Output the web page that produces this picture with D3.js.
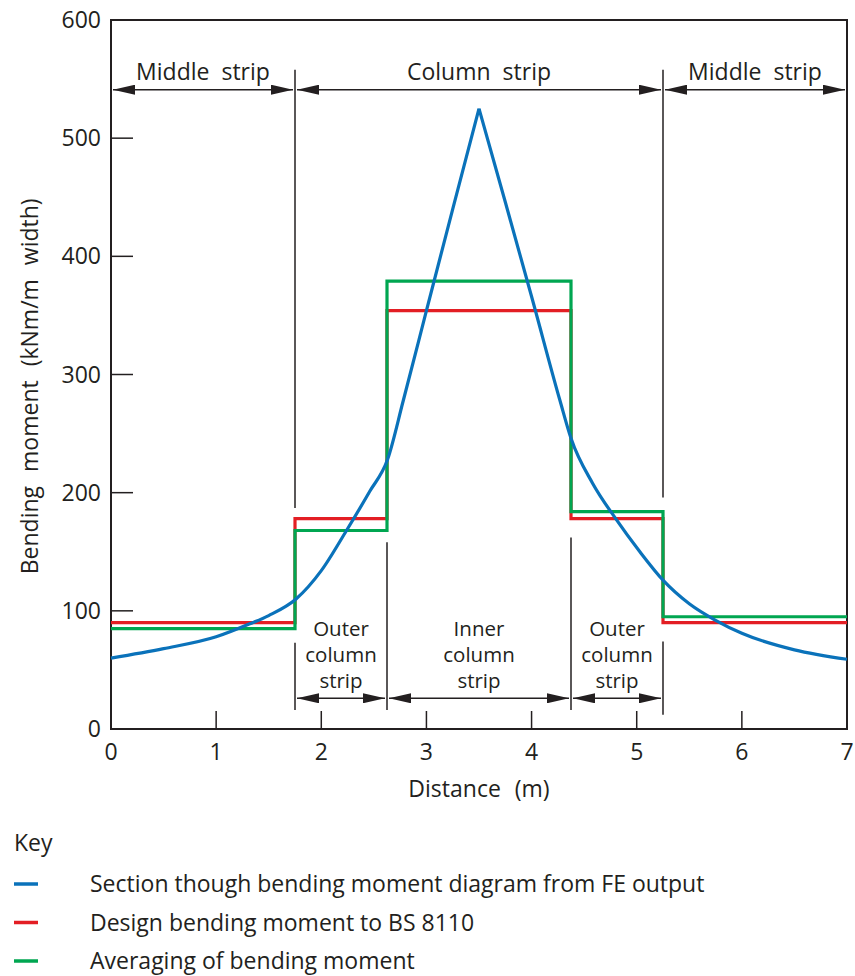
<!DOCTYPE html>
<html>
<head>
<meta charset="utf-8">
<script src="https://cdn.jsdelivr.net/npm/d3@7"></script>
<style>
  body { margin: 0; background: #fff; }
  svg text { font-family: "Open Sans", sans-serif; fill: #231f20; }
</style>
</head>
<body>
<svg id="chart"></svg>
<script>
'use strict'

// FE output section (blue), split at the peak
const feLeft = [
  [0, 60], [0.5, 68], [1, 78], [1.32, 89], [1.5, 96], [1.76, 110], [2, 134],
  [2.24, 168], [2.46, 201], [2.63, 228], [2.78, 278], [3, 354], [3.25, 440], [3.5, 525]
]
const feRight = [
  [3.5, 525], [3.75, 446], [4, 366], [4.27, 278], [4.375, 246], [4.58, 208],
  [4.8, 178], [5.03, 150], [5.25, 126], [5.5, 106], [5.75, 92], [6, 81],
  [6.5, 67], [7, 59]
]

// strip edges (m)
const stripEdges = [0, 1.75, 2.625, 4.375, 5.25, 7]

// design moment to BS 8110 (red) and averaged moment (green), per strip
const designBM = [90, 178, 354, 178, 90]
const averageBM = [85, 168, 379, 184, 95]

const xTicks = [0, 1, 2, 3, 4, 5, 6, 7]
const yTicks = [0, 100, 200, 300, 400, 500, 600]

const topStrips = [
  {from: 0, to: 1.75, label: 'Middle strip'},
  {from: 1.75, to: 5.25, label: 'Column strip'},
  {from: 5.25, to: 7, label: 'Middle strip'}
]
const bottomStrips = [
  {from: 1.75, to: 2.625, label: ['Outer', 'column', 'strip']},
  {from: 2.625, to: 4.375, label: ['Inner', 'column', 'strip']},
  {from: 4.375, to: 5.25, label: ['Outer', 'column', 'strip']}
]

const legendItems = [
  {color: '#0a72ba', text: 'Section though bending moment diagram from FE output'},
  {color: '#e31e24', text: 'Design bending moment to BS 8110'},
  {color: '#00a651', text: 'Averaging of bending moment'}
]

const W = 855, H = 976
const margin = {top: 20, right: 8, bottom: 247, left: 111}
const ink = '#231f20'

const svg = d3.select('#chart').attr('width', W).attr('height', H)

const x = d3.scaleLinear().domain([0, 7]).range([margin.left, W - margin.right])
const y = d3.scaleLinear().domain([0, 600]).range([H - margin.bottom, margin.top])

// frame
svg.append('rect')
  .attr('x', x(0)).attr('y', y(600))
  .attr('width', x(7) - x(0)).attr('height', y(0) - y(600))
  .attr('fill', 'none').attr('stroke', ink).attr('stroke-width', 2)

// inward ticks
svg.append('g').selectAll('line').data(yTicks.slice(1, -1)).enter().append('line')
  .attr('x1', x(0)).attr('x2', x(0) + 22)
  .attr('y1', d => y(d)).attr('y2', d => y(d))
  .attr('stroke', ink).attr('stroke-width', 1.5)
svg.append('g').selectAll('line').data(xTicks.slice(1, -1)).enter().append('line')
  .attr('x1', d => x(d)).attr('x2', d => x(d))
  .attr('y1', y(0)).attr('y2', y(0) - 18)
  .attr('stroke', ink).attr('stroke-width', 1.5)

// tick labels
svg.append('g').selectAll('text').data(yTicks).enter().append('text')
  .attr('x', x(0) - 10).attr('y', d => y(d) + 8)
  .attr('text-anchor', 'end').attr('font-size', 23)
  .text(d => d)
svg.append('g').selectAll('text').data(xTicks).enter().append('text')
  .attr('x', d => x(d)).attr('y', y(0) + 31)
  .attr('text-anchor', 'middle').attr('font-size', 23)
  .text(d => d)

// axis titles
svg.append('text')
  .attr('x', x(3.5)).attr('y', 797)
  .attr('text-anchor', 'middle').attr('font-size', 23).attr('word-spacing', 8)
  .text('Distance (m)')
svg.append('text')
  .attr('transform', `translate(38 ${y(290)}) rotate(-90)`)
  .attr('text-anchor', 'middle').attr('font-size', 23).attr('word-spacing', 8)
  .text('Bending moment (kNm/m width)')

// arrowhead markers
const defs = svg.append('defs')
defs.append('marker')
  .attr('id', 'arr').attr('viewBox', '0 0 22 10')
  .attr('refX', 22).attr('refY', 5)
  .attr('markerWidth', 22).attr('markerHeight', 10)
  .attr('markerUnits', 'userSpaceOnUse').attr('orient', 'auto-start-reverse')
  .append('path').attr('d', 'M0,0 L22,5 L0,10 Z').attr('fill', ink)

function dimension(g, from, to, yv) {
  g.append('line')
    .attr('x1', x(from) + 2).attr('x2', x(to) - 2)
    .attr('y1', y(yv)).attr('y2', y(yv))
    .attr('stroke', ink).attr('stroke-width', 1.5)
    .attr('marker-start', 'url(#arr)').attr('marker-end', 'url(#arr)')
}

function divider(xv, y1, y2) {
  svg.append('line')
    .attr('x1', x(xv)).attr('x2', x(xv))
    .attr('y1', y(y1)).attr('y2', y(y2))
    .attr('stroke', ink).attr('stroke-width', 1.5)
}

// strip dividers
divider(1.75, 558, 187)
divider(5.25, 558, 196)
divider(1.75, 73, 16)
divider(2.625, 158, 16)
divider(4.375, 162, 16)
divider(5.25, 74, 12)

// top strip dimensions
const topG = svg.append('g')
topStrips.forEach(s => {
  dimension(topG, s.from, s.to, 541)
  topG.append('text')
    .attr('x', x((s.from + s.to) / 2)).attr('y', y(541) - 10)
    .attr('text-anchor', 'middle').attr('font-size', 23).attr('word-spacing', 6)
    .text(s.label)
})

// bottom strip dimensions
const botG = svg.append('g')
bottomStrips.forEach(s => {
  dimension(botG, s.from, s.to, 26)
  botG.append('text')
    .attr('x', x((s.from + s.to) / 2)).attr('y', 636)
    .attr('text-anchor', 'middle').attr('font-size', 20.5)
    .selectAll('tspan').data(s.label).enter().append('tspan')
    .attr('x', x((s.from + s.to) / 2))
    .attr('dy', (d, i) => i === 0 ? 0 : 26)
    .text(d => d)
})

// step lines for red and green
function steps(vals) {
  const pts = []
  vals.forEach((v, i) => {
    pts.push([stripEdges[i], v])
    pts.push([stripEdges[i + 1], v])
  })
  return pts
}
const line = d3.line().x(d => x(d[0])).y(d => y(d[1]))

svg.append('path').datum(steps(designBM))
  .attr('d', line).attr('fill', 'none')
  .attr('stroke', '#e31e24').attr('stroke-width', 3.2)
svg.append('path').datum(steps(averageBM))
  .attr('d', line).attr('fill', 'none')
  .attr('stroke', '#00a651').attr('stroke-width', 3.2)

// FE curve
const curve = d3.line().x(d => x(d[0])).y(d => y(d[1])).curve(d3.curveMonotoneX)
const feG = svg.append('g')
;[feLeft, feRight].forEach(branch => {
  feG.append('path').datum(branch)
    .attr('d', curve).attr('fill', 'none')
    .attr('stroke', '#0a72ba').attr('stroke-width', 3.2)
})

// key
svg.append('text').attr('x', 14).attr('y', 851).attr('font-size', 23).text('Key')
const leg = svg.append('g').selectAll('g').data(legendItems).enter().append('g')
  .attr('transform', (d, i) => `translate(0 ${884 + i * 38.5})`)
leg.append('line')
  .attr('x1', 14).attr('x2', 38).attr('y1', 0).attr('y2', 0)
  .attr('stroke', d => d.color).attr('stroke-width', 3.5)
leg.append('text')
  .attr('x', 90).attr('y', 8).attr('font-size', 23)
  .text(d => d.text)
</script>
</body>
</html>
